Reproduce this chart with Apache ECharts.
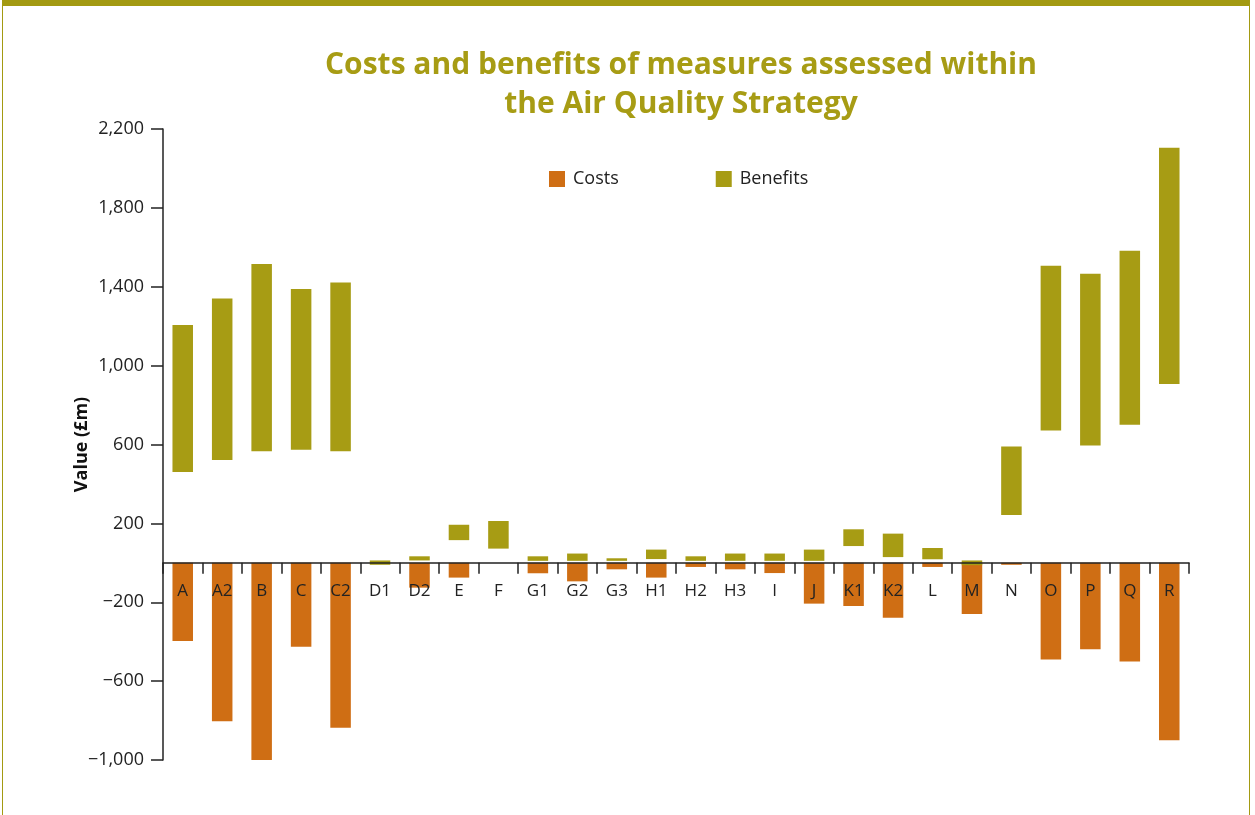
<!DOCTYPE html>
<html>
<head>
<meta charset="utf-8">
<script src="https://cdn.jsdelivr.net/npm/echarts@6/dist/echarts.min.js"></script>
<style>
  html, body { margin: 0; padding: 0; background: #fff; }
  #chart { position: absolute; left: 0; top: 0; width: 1255px; height: 815px; }
  #frame { position: absolute; left: 2px; top: 0; width: 1248px; height: 815px;
           border-top: 6px solid #a39a12; border-left: 1px solid #a39a12; border-right: 1px solid #a39a12;
           box-sizing: border-box; pointer-events: none; }
</style>
</head>
<body>
<div id="chart"></div>
<div id="frame"></div>
<script>
const categories = ['A','A2','B','C','C2','D1','D2','E','F','G1','G2','G3','H1','H2','H3','I','J','K1','K2','L','M','N','O','P','Q','R'];
const benefitLow  = [460, 522, 566, 573, 566, -10, 12, 115, 72, 10, 10, 10, 19, 10, 10, 10, 10, 85, 29, 18, -12, 242, 671, 595, 700, 907];
const benefitHigh = [1206, 1341, 1515, 1388, 1422, 12, 33, 193, 212, 33, 47, 23, 67, 33, 47, 47, 67, 170, 148, 75, 12, 590, 1506, 1466, 1582, 2105];
const costValues  = [-396, -803, -1014, -426, -836, 0, -126, -75, 0, -53, -94, -33, -75, -21, -33, -52, -207, -219, -279, -21, -259, -10, -490, -438, -500, -900];
const yTicks = { min: -1000, max: 2200, interval: 400 };

const COST_COLOR = '#cf6e14';
const BEN_COLOR = '#a79c14';
const FONT = 'Open Sans';

const costData = categories.map((c, i) => [i, costValues[i], 0]);
const benData = categories.map((c, i) => [i, benefitLow[i], benefitHigh[i]]);

function rangeRenderer(color) {
  return function (params, api) {
    const idx = api.value(0);
    const lo = api.value(1), hi = api.value(2);
    if (lo === hi) return null;
    const p1 = api.coord([idx, hi]);
    const p2 = api.coord([idx, lo]);
    const bw = api.size([1, 0])[0] * 0.52;
    const cs = params.coordSys;
    return {
      type: 'rect',
      shape: echarts.graphic.clipRectByRect({
        x: p1[0] - bw / 2, y: Math.min(p1[1], p2[1]), width: bw, height: Math.abs(p2[1] - p1[1])
      }, { x: cs.x, y: cs.y, width: cs.width, height: cs.height }),
      style: { fill: color }
    };
  };
}

const chart = echarts.init(document.getElementById('chart'), null, { renderer: 'canvas' });
chart.setOption({
  animation: false,
  backgroundColor: '#fff',
  title: {
    text: 'Costs and benefits of measures assessed within\nthe Air Quality Strategy',
    left: 676, top: 41, textAlign: 'center',
    textStyle: { color: BEN_COLOR, fontFamily: FONT, fontWeight: 'bold', fontSize: 30, lineHeight: 39 }
  },
  legend: {
    left: 549, top: 170, padding: 0,
    itemWidth: 16, itemHeight: 16, itemGap: 97,
    icon: 'rect',
    textStyle: { fontFamily: FONT, fontSize: 18, color: '#222', padding: [0, 0, 0, 3] },
    data: [
      { name: 'Costs', itemStyle: { color: COST_COLOR } },
      { name: 'Benefits', itemStyle: { color: BEN_COLOR } }
    ]
  },
  grid: { left: 163, right: 66, top: 129, bottom: 55, containLabel: false },
  xAxis: {
    type: 'category',
    data: categories,
    z: 10,
    axisLine: { onZero: true, lineStyle: { color: '#222', width: 1.5 } },
    axisTick: { show: true, length: 11, lineStyle: { color: '#222', width: 1.5 } },
    axisLabel: { fontFamily: FONT, fontSize: 17, color: '#222', margin: -177, interval: 0 },
    splitLine: { show: false }
  },
  yAxis: {
    type: 'value',
    min: yTicks.min, max: yTicks.max, interval: yTicks.interval,
    name: 'Value (£m)',
    nameLocation: 'middle',
    nameGap: 72,
    nameMoveOverlap: false,
    nameTextStyle: { fontFamily: FONT, fontSize: 18, fontWeight: 'bold', color: '#111' },
    axisLine: { show: true, lineStyle: { color: '#222', width: 1.5 } },
    axisTick: { show: true, length: 12, lineStyle: { color: '#222', width: 1.5 } },
    axisLabel: {
      fontFamily: FONT, fontSize: 18, color: '#222', margin: 19,
      formatter: v => (v < 0 ? '\u2212' : '') + Math.abs(v).toLocaleString('en-US')
    },
    splitLine: { show: false }
  },
  series: [
    { name: 'Costs', type: 'custom', renderItem: rangeRenderer(COST_COLOR), itemStyle: { color: COST_COLOR },
      encode: { x: 0, y: [1, 2] }, data: costData, z: 2 },
    { name: 'Benefits', type: 'custom', renderItem: rangeRenderer(BEN_COLOR), itemStyle: { color: BEN_COLOR },
      encode: { x: 0, y: [1, 2] }, data: benData, z: 3 }
  ]
});
</script>
</body>
</html>
